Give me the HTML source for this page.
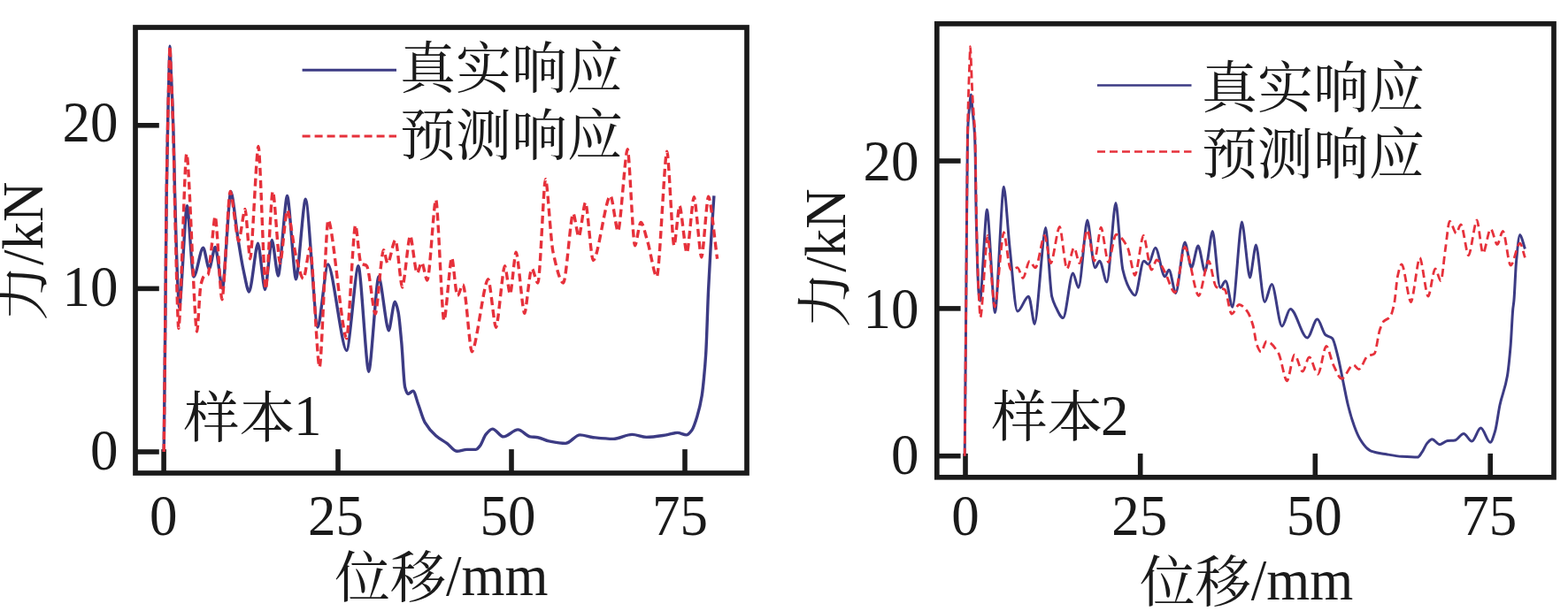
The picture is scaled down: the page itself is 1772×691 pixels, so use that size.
<!DOCTYPE html>
<html><head><meta charset="utf-8"><title>chart</title>
<style>html,body{margin:0;padding:0;background:#fff;}body{width:1772px;height:691px;overflow:hidden;position:relative;font-family:"Liberation Serif",serif;}</style></head>
<body>
<svg width="1772" height="691" viewBox="0 0 1772 691" style="position:absolute;left:0;top:0">
<rect width="1772" height="691" fill="#fff"/>
<rect x="153.0" y="31.0" width="691.0" height="504.0" fill="none" stroke="#1a1a1a" stroke-width="5.7"/>
<line x1="185.1" y1="535.0" x2="185.1" y2="508.1" stroke="#1a1a1a" stroke-width="5.6"/>
<line x1="382.0" y1="535.0" x2="382.0" y2="508.1" stroke="#1a1a1a" stroke-width="5.6"/>
<line x1="578.0" y1="535.0" x2="578.0" y2="508.1" stroke="#1a1a1a" stroke-width="5.6"/>
<line x1="774.0" y1="535.0" x2="774.0" y2="508.1" stroke="#1a1a1a" stroke-width="5.6"/>
<line x1="153.0" y1="511.0" x2="179.8" y2="511.0" stroke="#1a1a1a" stroke-width="5.6"/>
<line x1="153.0" y1="326.4" x2="179.8" y2="326.4" stroke="#1a1a1a" stroke-width="5.6"/>
<line x1="153.0" y1="141.8" x2="179.8" y2="141.8" stroke="#1a1a1a" stroke-width="5.6"/>
<rect x="1058.8" y="26.9" width="697.2" height="512.9" fill="none" stroke="#1a1a1a" stroke-width="5.7"/>
<line x1="1091.0" y1="539.8" x2="1091.0" y2="512.9" stroke="#1a1a1a" stroke-width="5.6"/>
<line x1="1288.7" y1="539.8" x2="1288.7" y2="512.9" stroke="#1a1a1a" stroke-width="5.6"/>
<line x1="1486.3" y1="539.8" x2="1486.3" y2="512.9" stroke="#1a1a1a" stroke-width="5.6"/>
<line x1="1684.2" y1="539.8" x2="1684.2" y2="512.9" stroke="#1a1a1a" stroke-width="5.6"/>
<line x1="1058.8" y1="515.7" x2="1085.6" y2="515.7" stroke="#1a1a1a" stroke-width="5.6"/>
<line x1="1058.8" y1="348.9" x2="1085.6" y2="348.9" stroke="#1a1a1a" stroke-width="5.6"/>
<line x1="1058.8" y1="182.0" x2="1085.6" y2="182.0" stroke="#1a1a1a" stroke-width="5.6"/>
<path d="M185.2 511.0C185.5 480.7 185.9 451.8 186.2 420.0C186.5 388.2 186.9 353.3 187.2 320.0C187.5 286.7 187.9 244.5 188.2 220.0C188.7 180.8 189.3 154.3 189.8 130.0C190.3 108.7 190.7 91.5 191.2 76.0C191.5 67.2 191.8 52.3 192.0 52.3C192.3 52.3 192.8 70.9 193.2 80.0C193.8 93.6 194.4 104.4 195.0 120.0C195.4 131.3 195.9 144.0 196.3 160.0C196.7 174.8 197.1 198.6 197.5 215.0C198.0 235.5 198.5 254.1 199.0 270.0C199.6 289.0 200.2 308.1 200.8 320.0C201.4 331.9 202.2 347.6 202.6 347.6C204.8 347.6 209.2 232.6 211.4 232.6C213.3 232.6 216.7 313.0 218.9 313.0C222.1 313.0 226.4 280.2 229.6 280.2C231.6 280.2 234.5 304.0 236.4 304.0C238.3 304.0 241.3 279.5 243.2 279.5C245.5 279.5 249.3 326.3 251.4 326.3C253.8 326.3 258.5 216.4 260.9 216.4C262.9 216.4 266.3 253.3 269.0 270.0C271.0 282.4 273.0 295.7 275.0 305.0C277.2 315.1 279.7 330.1 281.5 330.1C284.3 330.1 289.0 275.2 291.5 275.2C293.5 275.2 297.5 327.6 299.5 327.6C301.4 327.6 305.4 271.5 307.3 271.5C309.1 271.5 312.6 312.0 314.4 312.0C316.9 312.0 322.1 221.4 324.6 221.4C327.1 221.4 332.0 315.7 334.5 315.7C337.2 315.7 342.6 225.1 345.3 225.1C348.8 225.1 355.7 370.1 359.1 370.1C362.0 370.1 367.6 298.9 370.6 298.9C376.1 298.9 386.2 396.4 391.7 396.4C395.1 396.4 401.7 300.8 405.0 300.8C407.9 300.8 413.8 420.2 416.7 420.2C419.5 420.2 425.2 312.6 428.0 312.6C430.8 312.6 436.4 373.9 439.3 373.9C441.1 373.9 444.2 341.3 446.3 341.3C447.4 341.3 448.8 347.0 450.0 352.6C451.3 358.4 452.5 374.0 453.8 387.7C455.1 401.4 456.3 432.7 457.6 437.6C458.7 442.0 459.9 445.5 461.0 445.5C462.9 445.5 464.9 442.3 466.8 442.3C468.7 442.3 470.7 451.9 472.6 457.0C475.1 463.6 477.6 473.3 480.1 477.6C484.3 484.8 488.4 489.0 492.6 492.7C496.8 496.4 500.9 498.3 505.1 501.4C508.9 504.2 512.6 510.2 516.4 510.2C520.2 510.2 523.9 508.4 527.7 508.4C531.0 508.4 534.4 508.4 537.7 508.4C539.4 508.4 541.0 505.9 542.7 503.9C544.8 501.3 546.9 493.9 549.0 491.4C551.5 488.4 554.0 485.1 556.5 485.1C560.7 485.1 564.8 493.9 569.0 493.9C574.4 493.9 579.9 485.9 585.3 485.9C589.9 485.9 594.5 493.2 599.1 493.9C602.0 494.3 604.9 494.3 607.8 494.7C612.0 495.3 616.2 498.1 620.4 498.9C626.6 500.1 632.9 501.4 639.1 501.4C644.5 501.4 650.0 491.9 655.4 491.9C660.4 491.9 665.4 494.1 670.4 494.7C677.9 495.5 685.5 496.4 693.0 496.4C700.1 496.4 707.2 491.4 714.3 491.4C719.7 491.4 725.1 494.4 730.5 494.4C738.0 494.4 745.6 493.0 753.1 491.9C757.3 491.3 761.4 489.4 765.6 489.4C768.9 489.4 772.3 491.9 775.6 491.9C777.7 491.9 779.8 489.2 781.9 486.4C784.0 483.7 786.0 477.0 788.1 470.1C789.8 464.5 791.5 458.1 793.2 447.6C794.0 442.5 794.9 433.8 795.7 425.0C796.4 418.0 797.0 410.9 797.7 400.0C798.7 384.2 799.6 348.4 800.6 327.6C801.4 309.7 802.3 294.3 803.1 280.0C804.4 258.3 805.6 240.9 806.9 221.4" fill="none" stroke="#3c3b84" stroke-width="3.40" stroke-linejoin="round" stroke-linecap="butt"/>
<path d="M185.2 511.0C185.5 480.7 185.9 451.8 186.2 420.0C186.5 388.2 186.9 353.3 187.2 320.0C187.5 286.7 187.9 244.5 188.2 220.0C188.7 180.8 189.3 154.3 189.8 130.0C190.3 108.7 190.7 91.5 191.2 76.0C191.5 67.2 191.8 52.3 192.0 52.3C192.3 52.3 192.8 70.4 193.2 80.0C193.8 94.4 194.4 107.4 195.0 125.0C195.4 137.7 195.9 152.2 196.3 170.0C196.7 186.4 197.1 212.1 197.5 230.0C198.0 252.3 198.5 270.9 199.0 290.0C199.5 309.1 200.0 332.0 200.5 345.0C200.9 356.2 201.5 371.4 201.8 371.4C204.1 371.4 208.6 173.8 210.9 173.8C213.8 173.8 219.7 375.1 222.6 375.1C223.7 375.1 225.5 328.0 227.0 322.0C228.3 316.5 229.7 312.6 231.0 312.0C232.3 311.4 233.7 311.7 235.0 311.0C236.0 310.5 237.0 297.7 238.0 290.0C239.7 276.7 241.9 244.7 243.2 244.7C245.1 244.7 249.0 338.8 250.9 338.8C253.2 338.8 257.9 216.4 260.2 216.4C262.6 216.4 267.3 272.7 269.7 272.7C271.5 272.7 275.2 236.4 277.0 236.4C278.4 236.4 281.3 292.8 282.7 292.8C285.0 292.8 289.7 165.5 292.0 165.5C294.1 165.5 298.2 327.0 300.3 327.0C302.3 327.0 306.3 216.4 308.3 216.4C310.4 216.4 314.4 297.8 316.5 297.8C318.5 297.8 322.6 237.7 324.6 237.7C327.2 237.7 331.5 279.0 335.0 292.0C337.6 301.8 340.5 315.3 342.8 315.3C345.1 315.3 348.4 280.2 350.4 280.2C353.2 280.2 358.4 415.2 361.1 415.2C363.6 415.2 368.4 248.9 370.9 248.9C376.1 248.9 386.5 382.7 391.7 382.7C394.2 382.7 399.2 254.7 401.7 254.7C403.3 254.7 405.9 296.5 408.0 298.0C410.1 299.5 412.1 299.0 414.2 300.3C417.5 302.5 421.7 355.1 424.2 355.1C426.5 355.1 430.8 282.7 433.5 282.7C434.8 282.7 436.7 297.8 438.0 297.8C440.6 297.8 444.2 271.5 446.8 271.5C449.1 271.5 452.7 325.0 454.6 325.0C456.9 325.0 461.4 266.5 463.6 266.5C465.6 266.5 469.0 308.8 471.5 308.8C473.1 308.8 474.9 297.0 476.5 297.0C478.5 297.0 481.0 317.0 482.8 317.0C485.7 317.0 490.2 225.8 492.6 225.8C494.9 225.8 499.5 362.6 501.8 362.6C504.0 362.6 508.4 291.4 510.6 291.4C512.2 291.4 514.9 334.4 517.0 334.4C519.0 334.4 521.1 322.0 523.1 322.0C526.4 322.0 530.6 397.7 533.3 397.7C538.1 397.7 546.9 315.7 551.7 315.7C554.0 315.7 558.3 370.2 560.5 370.2C563.0 370.2 568.0 300.8 570.5 300.8C572.0 300.8 575.0 332.6 576.5 332.6C578.2 332.6 581.5 285.2 583.2 285.2C585.6 285.2 590.4 354.4 592.8 354.4C594.8 354.4 598.4 303.8 601.0 303.8C603.1 303.8 605.7 320.0 607.8 320.0C610.5 320.0 614.3 202.6 616.5 202.6C618.6 202.6 622.2 271.6 625.0 285.0C628.9 303.3 633.2 320.0 636.6 320.0C639.9 320.0 644.8 241.4 647.8 241.4C649.5 241.4 652.4 267.7 654.1 267.7C656.1 267.7 659.7 228.9 661.6 228.9C663.8 228.9 667.9 294.5 670.4 294.5C675.9 294.5 684.4 221.4 689.9 221.4C692.3 221.4 696.2 261.5 698.4 261.5C701.2 261.5 706.5 168.8 709.2 168.8C711.3 168.8 715.2 277.8 717.5 277.8C719.3 277.8 722.2 251.5 724.2 251.5C726.5 251.5 729.2 264.6 731.7 272.7C735.2 284.0 739.3 313.0 742.2 313.0C745.4 313.0 750.9 171.3 753.8 171.3C755.8 171.3 759.8 277.8 761.8 277.8C763.3 277.8 766.5 232.7 768.0 232.7C770.0 232.7 774.2 286.0 776.2 286.0C778.2 286.0 782.3 222.7 784.3 222.7C786.4 222.7 790.7 291.0 792.8 291.0C794.8 291.0 798.6 222.2 800.6 222.2C803.1 222.2 807.3 269.2 810.6 292.7" fill="none" stroke="#e6313b" stroke-width="3.40" stroke-linejoin="round" stroke-linecap="butt" stroke-dasharray="9 5"/>
<path d="M1090.2 515.7C1090.5 487.1 1090.7 459.3 1091.0 430.0C1091.3 400.7 1091.5 372.0 1091.8 340.0C1092.0 312.0 1092.3 276.2 1092.5 250.0C1092.7 227.6 1092.9 207.7 1093.1 190.0C1093.3 175.2 1093.4 154.9 1093.6 150.0C1094.1 134.2 1094.7 131.0 1095.2 125.0C1095.9 117.1 1096.8 107.0 1097.3 107.0C1097.7 107.0 1098.4 119.4 1099.0 125.0C1099.5 130.3 1100.1 133.7 1100.6 140.0C1100.9 143.9 1101.3 147.9 1101.6 155.0C1101.8 159.3 1102.0 165.0 1102.2 175.0C1102.3 181.6 1102.5 200.6 1102.6 210.0C1102.8 226.4 1103.1 239.1 1103.3 250.0C1103.7 270.3 1104.2 288.0 1104.6 300.0C1105.1 312.9 1105.5 325.2 1106.0 330.0C1106.5 335.2 1107.1 340.2 1107.5 340.2C1109.5 340.2 1113.4 237.1 1115.4 237.1C1117.7 237.1 1122.2 353.5 1124.5 353.5C1127.0 353.5 1131.9 211.3 1134.4 211.3C1136.1 211.3 1138.9 259.8 1141.1 280.2C1144.0 307.0 1147.0 352.0 1149.9 352.0C1154.1 352.0 1158.2 335.2 1162.4 335.2C1164.7 335.2 1167.4 366.4 1169.2 366.4C1172.4 366.4 1178.6 257.6 1181.7 257.6C1183.5 257.6 1186.4 325.6 1188.7 335.3C1190.0 340.6 1191.2 343.2 1192.5 345.8C1195.4 351.9 1198.4 359.6 1201.3 359.6C1205.0 359.6 1209.1 309.0 1212.5 309.0C1214.4 309.0 1216.9 325.2 1218.8 325.2C1221.9 325.2 1226.3 248.9 1228.8 248.9C1231.0 248.9 1234.7 302.7 1237.6 302.7C1239.3 302.7 1240.9 295.2 1242.6 295.2C1245.3 295.2 1248.3 319.0 1250.8 319.0C1253.8 319.0 1258.4 229.6 1260.9 229.6C1262.9 229.6 1266.2 293.7 1268.9 305.2C1271.4 316.0 1273.9 322.2 1276.4 326.4C1278.5 329.9 1280.5 334.0 1282.6 334.0C1286.0 334.0 1289.3 295.2 1292.7 295.2C1294.4 295.2 1296.0 299.0 1297.7 299.0C1300.4 299.0 1303.2 280.2 1305.7 280.2C1309.1 280.2 1312.9 312.7 1316.5 312.7C1318.0 312.7 1319.5 305.2 1321.0 305.2C1323.5 305.2 1326.5 331.4 1328.7 331.4C1331.7 331.4 1336.1 273.9 1339.0 273.9C1341.1 273.9 1344.3 302.7 1346.5 302.7C1348.7 302.7 1351.8 277.9 1354.0 277.9C1356.3 277.9 1359.6 307.0 1361.8 307.0C1364.2 307.0 1368.2 261.4 1370.3 261.4C1372.5 261.4 1376.2 325.3 1379.1 325.3C1381.1 325.3 1383.0 317.7 1385.0 317.7C1387.6 317.7 1390.6 347.3 1392.8 347.3C1395.8 347.3 1400.8 251.1 1403.4 251.1C1405.7 251.1 1410.2 314.0 1412.5 314.0C1414.2 314.0 1417.7 277.0 1419.4 277.0C1421.9 277.0 1426.2 341.4 1429.2 341.4C1431.7 341.4 1434.7 321.6 1437.2 321.6C1440.8 321.6 1445.1 368.9 1448.8 368.9C1451.8 368.9 1455.1 349.4 1458.2 349.4C1464.5 349.4 1471.1 382.0 1477.4 382.0C1481.1 382.0 1485.0 361.0 1488.7 361.0C1491.7 361.0 1494.9 376.4 1498.0 378.8C1500.5 380.8 1503.1 380.4 1505.6 382.6C1507.7 384.4 1509.7 394.6 1511.8 402.6C1513.9 410.7 1516.0 422.7 1518.1 432.7C1519.9 441.3 1521.7 451.3 1523.5 458.5C1525.8 467.8 1528.2 475.7 1530.5 482.0C1532.6 487.8 1534.8 493.0 1536.9 496.5C1539.8 501.3 1542.6 505.1 1545.5 507.5C1546.8 508.6 1548.1 509.6 1549.4 510.1C1555.2 512.2 1561.1 512.8 1566.9 513.8C1572.7 514.8 1578.6 515.9 1584.4 516.3C1590.3 516.7 1596.1 517.1 1602.0 517.1C1603.7 517.1 1605.3 513.7 1607.0 511.4C1609.1 508.6 1611.1 503.0 1613.2 500.8C1614.9 499.0 1616.6 496.8 1618.3 496.8C1621.3 496.8 1624.2 502.7 1627.2 502.7C1630.1 502.7 1632.9 498.8 1635.8 498.5C1638.5 498.2 1641.3 498.3 1644.0 498.0C1647.4 497.6 1650.7 490.4 1654.1 490.4C1657.2 490.4 1660.2 499.1 1663.3 499.1C1666.7 499.1 1670.0 484.1 1673.4 484.1C1677.0 484.1 1680.5 500.2 1684.1 500.2C1685.9 500.2 1687.8 493.5 1689.6 487.6C1691.4 481.8 1693.2 466.3 1695.0 458.0C1697.8 445.1 1700.6 441.4 1703.4 425.2C1704.7 417.9 1705.9 405.2 1707.2 390.1C1708.0 380.1 1708.9 358.7 1709.7 350.0C1710.1 345.8 1710.5 344.4 1710.9 340.2C1711.7 331.4 1712.6 306.7 1713.4 297.7C1714.8 282.3 1716.4 265.6 1717.7 265.6C1719.4 265.6 1721.5 276.1 1723.4 281.4" fill="none" stroke="#3c3b84" stroke-width="3.00" stroke-linejoin="round" stroke-linecap="butt"/>
<path d="M1090.2 515.7C1090.5 487.1 1090.7 459.3 1091.0 430.0C1091.3 400.7 1091.5 372.0 1091.8 340.0C1092.0 312.0 1092.3 276.2 1092.5 250.0C1092.7 227.6 1092.9 210.0 1093.1 190.0C1093.2 176.7 1093.4 158.6 1093.5 150.0C1093.8 130.6 1094.1 120.7 1094.4 110.0C1094.8 95.8 1095.2 85.1 1095.6 75.0C1095.9 66.6 1096.3 52.7 1096.6 52.7C1096.8 52.7 1097.3 67.2 1097.6 75.0C1098.0 84.4 1098.4 97.2 1098.8 105.0C1099.3 115.4 1099.9 122.0 1100.4 130.0C1100.9 137.0 1101.3 139.4 1101.8 150.0C1102.0 154.6 1102.2 164.5 1102.4 175.0C1102.6 183.8 1102.7 199.5 1102.9 210.0C1103.1 224.8 1103.4 238.6 1103.6 250.0C1104.0 269.5 1104.4 287.4 1104.8 300.0C1105.3 314.7 1105.7 326.8 1106.2 335.0C1106.8 345.5 1107.5 358.9 1108.0 358.9C1110.0 358.9 1114.1 266.4 1116.1 266.4C1118.1 266.4 1122.1 347.0 1124.1 347.0C1126.7 347.0 1131.8 262.6 1134.4 262.6C1136.4 262.6 1139.7 305.2 1142.4 305.2C1144.9 305.2 1147.4 302.7 1149.9 302.7C1151.9 302.7 1154.0 314.5 1156.0 314.5C1158.5 314.5 1161.1 295.2 1163.7 295.2C1165.8 295.2 1167.9 302.7 1170.0 302.7C1173.5 302.7 1177.5 266.4 1180.5 266.4C1182.5 266.4 1185.6 297.7 1187.5 297.7C1190.2 297.7 1194.8 256.4 1197.5 256.4C1199.7 256.4 1203.3 304.0 1205.8 304.0C1208.2 304.0 1211.4 280.2 1213.8 280.2C1215.7 280.2 1218.1 297.7 1220.0 297.7C1222.7 297.7 1226.4 260.1 1228.8 260.1C1230.9 260.1 1234.7 295.2 1236.8 295.2C1238.8 295.2 1242.4 257.1 1244.3 257.1C1246.4 257.1 1250.2 296.5 1252.6 296.5C1255.1 296.5 1258.5 265.1 1261.4 265.1C1265.6 265.1 1269.7 271.6 1273.9 278.9C1276.8 284.0 1280.2 311.4 1282.6 311.4C1285.3 311.4 1289.6 266.4 1292.2 266.4C1294.7 266.4 1298.4 305.2 1301.4 305.2C1303.3 305.2 1305.3 294.0 1307.2 294.0C1310.3 294.0 1313.4 302.4 1316.5 307.7C1320.2 314.1 1324.1 330.8 1327.7 330.8C1331.3 330.8 1335.8 279.5 1339.0 279.5C1343.5 279.5 1350.2 334.5 1354.7 334.5C1357.9 334.5 1362.7 295.2 1365.9 295.2C1368.4 295.2 1371.6 322.8 1374.5 324.5C1377.7 326.4 1380.9 325.6 1384.1 327.5C1386.7 329.1 1389.4 355.0 1392.0 355.0C1394.8 355.0 1397.6 344.5 1400.4 344.5C1403.4 344.5 1406.5 348.3 1409.5 352.2C1411.7 355.0 1413.8 360.7 1416.0 368.0C1417.5 372.9 1418.9 386.3 1420.4 390.1C1421.9 394.0 1423.5 398.0 1425.0 398.0C1427.1 398.0 1429.3 386.0 1431.4 386.0C1435.9 386.0 1440.3 392.4 1444.8 399.5C1448.0 404.6 1451.6 430.8 1454.4 430.8C1456.9 430.8 1460.3 401.1 1463.0 401.1C1465.9 401.1 1469.2 420.1 1472.1 420.1C1474.5 420.1 1477.2 403.9 1479.6 403.9C1482.7 403.9 1486.2 423.3 1489.3 423.3C1492.4 423.3 1496.0 391.3 1498.9 391.3C1501.3 391.3 1504.2 407.2 1506.8 412.6C1510.0 419.1 1513.1 428.2 1516.3 428.2C1520.7 428.2 1525.0 412.6 1529.4 412.6C1531.5 412.6 1533.5 417.6 1535.6 417.6C1538.9 417.6 1542.3 404.4 1545.6 402.6C1548.1 401.3 1550.6 401.7 1553.1 400.1C1555.2 398.8 1557.3 378.6 1559.4 372.7C1560.9 368.6 1562.3 364.8 1563.8 363.3C1566.1 360.9 1568.4 361.4 1570.7 358.9C1572.4 357.1 1574.0 350.8 1575.7 343.0C1576.9 337.2 1578.2 318.2 1579.4 312.7C1580.9 305.9 1582.6 298.9 1584.0 298.9C1587.1 298.9 1591.6 341.5 1594.5 341.5C1597.2 341.5 1601.9 291.4 1604.5 291.4C1607.0 291.4 1611.4 335.2 1614.0 335.2C1616.2 335.2 1619.5 303.9 1622.0 303.9C1624.0 303.9 1626.3 317.7 1628.3 317.7C1629.9 317.7 1631.6 293.9 1633.3 282.6C1635.0 271.4 1636.7 250.1 1638.3 250.1C1640.7 250.1 1643.4 263.9 1645.8 263.9C1647.4 263.9 1649.2 253.8 1650.8 253.8C1653.6 253.8 1657.2 288.9 1659.6 288.9C1662.2 288.9 1666.5 248.8 1669.1 248.8C1670.9 248.8 1673.9 286.4 1675.9 286.4C1678.5 286.4 1681.9 258.9 1684.6 258.9C1687.0 258.9 1689.7 276.4 1692.1 276.4C1694.1 276.4 1696.4 261.4 1698.4 261.4C1701.1 261.4 1704.5 300.2 1707.2 300.2C1710.5 300.2 1714.4 275.1 1717.7 275.1C1719.5 275.1 1721.5 286.0 1723.4 291.4" fill="none" stroke="#e6313b" stroke-width="2.80" stroke-linejoin="round" stroke-linecap="butt" stroke-dasharray="9 5"/>
<line x1="341.6" y1="79.3" x2="448" y2="79.3" stroke="#3c3b84" stroke-width="2.9"/>
<line x1="341.6" y1="154" x2="448" y2="154" stroke="#e6313b" stroke-width="2.9" stroke-dasharray="9 5"/>
<line x1="1240" y1="96.4" x2="1346.5" y2="96.4" stroke="#3c3b84" stroke-width="2.5"/>
<line x1="1240" y1="171.5" x2="1346.5" y2="171.5" stroke="#e6313b" stroke-width="2.3" stroke-dasharray="9 5"/>
<g fill="#1a1a1a" font-family="'Liberation Serif', 'Noto Serif CJK SC', serif" font-size="63px">
<text transform="translate(184.8 604.8) scale(1 1.025)" text-anchor="middle">0</text>
<text transform="translate(379.5 604.8) scale(1 1.025)" text-anchor="middle">25</text>
<text transform="translate(574.0 604.8) scale(1 1.025)" text-anchor="middle">50</text>
<text transform="translate(768.5 604.8) scale(1 1.025)" text-anchor="middle">75</text>
<text transform="translate(133.5 530.7) scale(1 1.025)" text-anchor="end">0</text>
<text transform="translate(133.5 346.1) scale(1 1.025)" text-anchor="end">10</text>
<text transform="translate(133.5 160.0) scale(1 1.025)" text-anchor="end">20</text>
<text transform="translate(1091.0 605.3) scale(1 1.025)" text-anchor="middle">0</text>
<text transform="translate(1287.7 605.3) scale(1 1.025)" text-anchor="middle">25</text>
<text transform="translate(1485.3 605.3) scale(1 1.025)" text-anchor="middle">50</text>
<text transform="translate(1682.7 605.3) scale(1 1.025)" text-anchor="middle">75</text>
<text transform="translate(1038.5 536.4) scale(1 1.025)" text-anchor="end">0</text>
<text transform="translate(1038.5 370.9) scale(1 1.025)" text-anchor="end">10</text>
<text transform="translate(1038.5 204.3) scale(1 1.025)" text-anchor="end">20</text>
<text x="452" y="98.5" text-anchor="start">真实响应</text>
<text x="452" y="174.7" text-anchor="start">预测响应</text>
<text x="1358" y="120.7" text-anchor="start">真实响应</text>
<text x="1358" y="196.2" text-anchor="start">预测响应</text>
<text x="207.5" y="493.7" text-anchor="start">样本</text>
<text transform="translate(332.0 491.9) scale(1 1.025)" text-anchor="start">1</text>
<text x="1120.5" y="493.2" text-anchor="start">样本</text>
<text transform="translate(1244.0 492.3) scale(1 1.025)" text-anchor="start">2</text>
<text x="378" y="675.2" text-anchor="start">位移</text>
<text transform="translate(504.0 672.8) scale(1 1.025)" text-anchor="start">/mm</text>
<text x="1287.7" y="680.2" text-anchor="start">位移</text>
<text transform="translate(1413.7 677.9) scale(1 1.025)" text-anchor="start">/mm</text>
<g transform="translate(48.0 284.2) rotate(-90)"><text x="-78.75" y="-0.8" text-anchor="start">力</text><text transform="translate(-15.8 0.0) scale(1 1.025)" text-anchor="start">/kN</text></g>
<g transform="translate(954.8 292.0) rotate(-90)"><text x="-78.75" y="-0.8" text-anchor="start">力</text><text transform="translate(-15.8 0.0) scale(1 1.025)" text-anchor="start">/kN</text></g>
</g>
</svg>
</body></html>
